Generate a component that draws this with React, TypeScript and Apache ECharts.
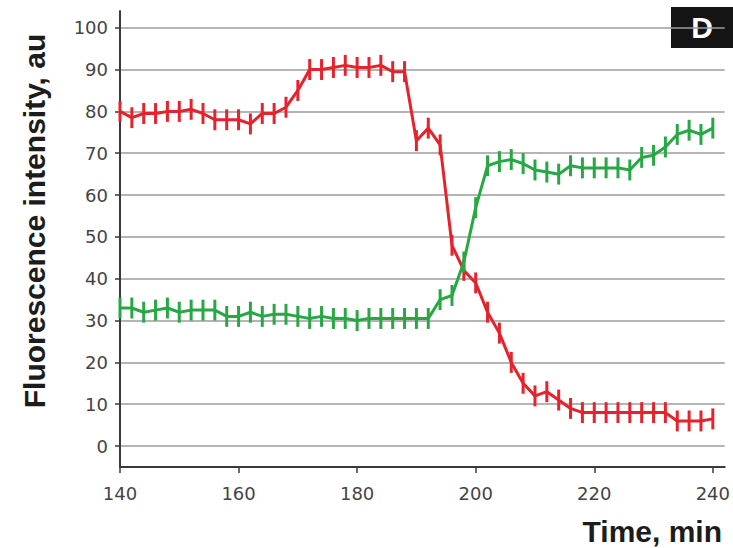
import React, { useEffect, useRef } from "react";
import * as echarts from "echarts";

const times = [
  140, 142, 144, 146, 148, 150, 152, 154, 156, 158,
  160, 162, 164, 166, 168, 170, 172, 174, 176, 178,
  180, 182, 184, 186, 188, 190, 192, 194, 196, 198,
  200, 202, 204, 206, 208, 210, 212, 214, 216, 218,
  220, 222, 224, 226, 228, 230, 232, 234, 236, 238,
  240,
];

const redValues = [
  80, 78.5, 79.5, 79.5, 80, 80, 80.5, 79.5, 78, 78,
  78, 77, 79.5, 79.5, 81, 85, 90, 90, 90.5, 91,
  90.5, 90.5, 91, 89.5, 89.5, 73, 76, 72, 48, 42,
  39, 32, 27, 20, 15, 12, 13, 11, 9, 8,
  8, 8, 8, 8, 8, 8, 8, 6, 6, 6,
  6.5,
];

const greenValues = [
  33, 33, 32, 32.5, 33, 32, 32.5, 32.5, 32.5, 31,
  31, 32, 31, 31.5, 31.5, 31, 30.5, 31, 30.5, 30.5,
  30, 30.5, 30.5, 30.5, 30.5, 30.5, 30.5, 35, 36, 44,
  57, 67, 68, 68.5, 67.5, 66, 65.5, 65, 67, 66.5,
  66.5, 66.5, 66.5, 66, 69, 69.5, 71.5, 74.5, 75.5, 74.5,
  76,
];

const redError = 2.5;
const greenError = 2.5;

const xTicks = [140, 160, 180, 200, 220, 240];
const yTicks = [0, 10, 20, 30, 40, 50, 60, 70, 80, 90, 100];

const RED = "#e5232d";
const GREEN = "#27a844";

function errorSeries(values: number[], err: number, color: string) {
  return {
    type: "custom",
    data: times.map((t, i) => [t, values[i], err]),
    encode: { x: 0, y: 1 },
    z: 3,
    renderItem: (params: any, api: any) => {
      const x = api.value(0);
      const v = api.value(1);
      const e = api.value(2);
      const top = api.coord([x, v + e]);
      const bot = api.coord([x, v - e]);
      return {
        type: "line",
        shape: { x1: top[0], y1: top[1], x2: bot[0], y2: bot[1] },
        style: { stroke: color, lineWidth: 3 },
      };
    },
  };
}

export default function App() {
  const ref = useRef<HTMLDivElement>(null);
  useEffect(() => {
    if (!ref.current) return;
    const chart = echarts.init(ref.current, undefined, { renderer: "svg" });
    chart.setOption({
      animation: false,
      backgroundColor: "#ffffff",
      grid: { left: 120, right: 3, top: 11, bottom: 81, containLabel: false },
      xAxis: {
        type: "value",
        min: 140,
        max: 242,
        axisLine: { show: true, onZero: false, lineStyle: { color: "#3a3a3a", width: 2 } },
        axisTick: {
          show: true,
          customValues: xTicks,
          length: 6,
          lineStyle: { color: "#3a3a3a", width: 1.5 },
        },
        axisLabel: {
          customValues: xTicks,
          margin: 17,
          fontFamily: "DejaVu Sans",
          fontSize: 18,
          color: "#444",
        },
        splitLine: { show: false },
      },
      yAxis: {
        type: "value",
        min: -5,
        max: 104,
        axisLine: { show: true, onZero: false, lineStyle: { color: "#3a3a3a", width: 2 } },
        axisTick: {
          show: true,
          customValues: yTicks,
          length: 5,
          lineStyle: { color: "#3a3a3a", width: 1.5 },
        },
        axisLabel: {
          customValues: yTicks,
          margin: 12,
          fontFamily: "DejaVu Sans",
          fontSize: 18,
          color: "#444",
        },
        splitLine: { show: true, lineStyle: { color: "#9c9c9c", width: 1.5 } },
      },
      graphic: [
        {
          type: "text",
          x: 34,
          y: 221,
          rotation: Math.PI / 2,
          style: {
            text: "Fluorescence intensity, au",
            fontFamily: "Liberation Sans",
            fontWeight: "bold",
            fontSize: 30,
            fill: "#1c1c1c",
            textAlign: "center",
            textVerticalAlign: "middle",
          },
        },
        {
          type: "text",
          x: 722,
          y: 531,
          style: {
            text: "Time, min",
            fontFamily: "Liberation Sans",
            fontWeight: "bold",
            fontSize: 30,
            fill: "#1c1c1c",
            textAlign: "right",
            textVerticalAlign: "middle",
          },
        },
        {
          type: "rect",
          shape: { x: 671, y: 7, width: 62, height: 41 },
          style: { fill: "#141414" },
        },
        {
          type: "text",
          x: 702,
          y: 27,
          style: {
            text: "D",
            fontFamily: "Liberation Sans",
            fontWeight: "bold",
            fontSize: 30,
            fill: "#ffffff",
            textAlign: "center",
            textVerticalAlign: "middle",
          },
        },
      ],
      series: [
        {
          type: "line",
          name: "red",
          data: times.map((t, i) => [t, redValues[i]]),
          showSymbol: false,
          lineStyle: { color: RED, width: 3 },
          itemStyle: { color: RED },
          z: 2,
        },
        errorSeries(redValues, redError, RED),
        {
          type: "line",
          name: "green",
          data: times.map((t, i) => [t, greenValues[i]]),
          showSymbol: false,
          lineStyle: { color: GREEN, width: 3 },
          itemStyle: { color: GREEN },
          z: 4,
        },
        { ...errorSeries(greenValues, greenError, GREEN), z: 5 },
      ],
    });
    return () => chart.dispose();
  }, []);
  return (
    <div
      ref={ref}
      style={{ position: "fixed", left: 0, top: 0, width: 733, height: 548 }}
    />
  );
}
